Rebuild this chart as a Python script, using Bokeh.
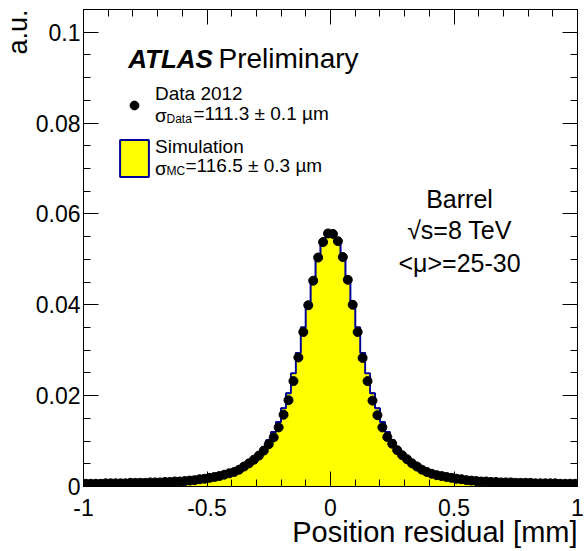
import numpy as np
from bokeh.plotting import figure
from bokeh.models import (Label, LinearAxis, Title, FixedTicker,
                          Legend, LegendItem)
from bokeh.embed import file_html
from bokeh.resources import INLINE

# ---------------- data ----------------
bin_width = 0.02
bin_centers = np.round(np.arange(-0.99, 1.0, 0.02), 2)   # 100 bins, -1 .. 1 mm

# Data 2012 (points), a.u. per bin
data_2012 = [
    0.0006, 0.0006, 0.0006, 0.0006, 0.0007, 0.0007, 0.0007, 0.0007, 0.0007, 0.0008,
    0.0008, 0.0008, 0.0008, 0.0009, 0.0009, 0.0009, 0.0010, 0.0010, 0.0011, 0.0011,
    0.0012, 0.0013, 0.0014, 0.0016, 0.0017, 0.0019, 0.0021, 0.0023, 0.0026, 0.0029,
    0.0032, 0.0037, 0.0044, 0.0051, 0.0059, 0.0068, 0.0079, 0.0093, 0.0108, 0.0130,
    0.0158, 0.0190, 0.0232, 0.0284, 0.0340, 0.0399, 0.0453, 0.0504, 0.0538, 0.0557,
    0.0556, 0.0540, 0.0505, 0.0455, 0.0400, 0.0340, 0.0283, 0.0232, 0.0189, 0.0157,
    0.0130, 0.0109, 0.0094, 0.0080, 0.0069, 0.0060, 0.0051, 0.0044, 0.0037, 0.0032,
    0.0028, 0.0025, 0.0023, 0.0021, 0.0019, 0.0017, 0.0016, 0.0014, 0.0013, 0.0012,
    0.0011, 0.0011, 0.0010, 0.0010, 0.0009, 0.0009, 0.0009, 0.0008, 0.0008, 0.0008,
    0.0008, 0.0007, 0.0007, 0.0007, 0.0007, 0.0007, 0.0006, 0.0006, 0.0006, 0.0006,
]

# Simulation (yellow histogram), a.u. per bin
simulation = [
    0.0002, 0.0002, 0.0002, 0.0002, 0.0002, 0.0002, 0.0002, 0.0002, 0.0002, 0.0002,
    0.0003, 0.0003, 0.0003, 0.0003, 0.0003, 0.0004, 0.0004, 0.0004, 0.0005, 0.0005,
    0.0006, 0.0007, 0.0008, 0.0009, 0.0011, 0.0013, 0.0016, 0.0019, 0.0022, 0.0026,
    0.0031, 0.0037, 0.0044, 0.0052, 0.0062, 0.0073, 0.0086, 0.0102, 0.0120, 0.0142,
    0.0172, 0.0205, 0.0249, 0.0294, 0.0350, 0.0405, 0.0458, 0.0503, 0.0535, 0.0549,
    0.0549, 0.0535, 0.0503, 0.0458, 0.0405, 0.0350, 0.0294, 0.0249, 0.0205, 0.0172,
    0.0142, 0.0120, 0.0102, 0.0086, 0.0073, 0.0062, 0.0052, 0.0044, 0.0037, 0.0031,
    0.0026, 0.0022, 0.0019, 0.0016, 0.0013, 0.0011, 0.0009, 0.0008, 0.0007, 0.0006,
    0.0005, 0.0005, 0.0004, 0.0004, 0.0004, 0.0003, 0.0003, 0.0003, 0.0003, 0.0003,
    0.0002, 0.0002, 0.0002, 0.0002, 0.0002, 0.0002, 0.0002, 0.0002, 0.0002, 0.0002,
]

x_major_ticks = [-1, -0.5, 0, 0.5, 1]
x_tick_labels = ["-1", "-0.5", "0", "0.5", "1"]
x_minor_ticks = [round(-1 + 0.1 * i, 1) for i in range(21)]
y_major_ticks = [0, 0.02, 0.04, 0.06, 0.08, 0.1]
y_tick_labels = ["0", "0.02", "0.04", "0.06", "0.08", "0.1"]
y_minor_ticks = [round(0.005 * i, 3) for i in range(22)]

# ---------------- derived geometry ----------------
lefts = bin_centers - bin_width / 2
rights = bin_centers + bin_width / 2
step_x = [lefts[0]]
step_y = [0.0]
for l, r, v in zip(lefts, rights, simulation):
    step_x += [l, r]
    step_y += [v, v]
step_x.append(rights[-1])
step_y.append(0.0)

FONT = "Liberation Sans"
HIST_LINE = "#000099"

p = figure(width=584, height=551, x_range=(-1, 1), y_range=(0, 0.105),
           output_backend="svg", toolbar_location=None,
           min_border_left=83, min_border_right=7, min_border_top=9, min_border_bottom=65)
p.background_fill_color = "white"
p.border_fill_color = "white"
p.outline_line_color = "black"
p.outline_line_width = 1
p.xgrid.visible = False
p.ygrid.visible = False

# histogram: bins (also used as legend key), filled area and step outline
hist = p.quad(left=lefts, right=rights, bottom=0, top=simulation,
              fill_color="#ffff00", line_color=HIST_LINE, line_width=2)
p.varea(x=step_x, y1=[0.0] * len(step_y), y2=step_y, fill_color="#ffff00")
p.line(step_x, step_y, line_color=HIST_LINE, line_width=1.8)

# data points
pts = p.scatter(bin_centers, data_2012, size=9, color="black", marker="circle")

# ---------------- axes ----------------
def style_axis(ax, major, minor, labels, show_labels=True):
    ax.ticker = FixedTicker(ticks=major, minor_ticks=minor)
    ax.major_tick_in = 15
    ax.major_tick_out = 0
    ax.minor_tick_in = 7
    ax.minor_tick_out = 0
    ax.axis_line_color = "black"
    ax.major_tick_line_color = "black"
    ax.minor_tick_line_color = "black"
    if show_labels:
        ax.major_label_overrides = {t: s for t, s in zip(major, labels)}
        ax.major_label_text_font = FONT
        ax.major_label_text_font_size = "23px"
        ax.major_label_text_color = "black"
    else:
        ax.major_label_text_font_size = "0px"
        ax.major_label_text_color = None
        ax.major_label_standoff = 0

style_axis(p.xaxis[0], x_major_ticks, x_minor_ticks, x_tick_labels)
p.xaxis[0].major_label_standoff = 12
style_axis(p.yaxis[0], y_major_ticks, y_minor_ticks, y_tick_labels)
p.yaxis[0].major_label_standoff = 3

top_ax = LinearAxis()
style_axis(top_ax, x_major_ticks, x_minor_ticks, x_tick_labels, show_labels=False)
p.add_layout(top_ax, "above")
right_ax = LinearAxis()
style_axis(right_ax, y_major_ticks, y_minor_ticks, y_tick_labels, show_labels=False)
p.add_layout(right_ax, "right")

p.add_layout(Title(text="Position residual [mm]", align="right", text_font=FONT,
                   text_font_size="29px", text_font_style="normal", text_color="black",
                   standoff=-9, offset=0),
             "below")
p.add_layout(Title(text="a.u.", align="right", text_font=FONT,
                   text_font_size="27px", text_font_style="normal", text_color="black",
                   standoff=0, offset=0),
             "left")

# ---------------- legend ----------------
common = dict(label_text_font=FONT, label_text_font_size="19px", label_text_color="black",
              label_text_line_height=0.98, padding=0, margin=0, spacing=0,
              border_line_color=None, background_fill_alpha=0)
leg_a = Legend(items=[LegendItem(label="Data 2012\nσ", renderers=[pts])],
               location=(40, 358), glyph_width=22, glyph_height=46,
               label_standoff=10, **common)
leg_b = Legend(items=[LegendItem(label="Simulation\nσ", renderers=[hist])],
               location=(33, 305), glyph_width=36, glyph_height=46,
               label_standoff=3, **common)
p.add_layout(leg_a)
p.add_layout(leg_b)

def lab(x, y, text, size, style="normal", align="left"):
    p.add_layout(Label(x=x, y=y, text=text, text_font=FONT, text_font_size=size,
                       text_font_style=style, text_align=align,
                       text_baseline="middle", text_color="black"))

# subscripts and values of the sigma lines
lab(-0.664, 0.08080, "Data", "12px")
lab(-0.5547, 0.08200, "=111.3 ± 0.1 µm", "19px")
lab(-0.664, 0.06950, "MC", "12px")
lab(-0.5870, 0.07070, "=116.5 ± 0.3 µm", "19px")

# ATLAS label
lab(-0.819, 0.0942, "ATLAS", "26px", style="bold italic")
lab(-0.4534, 0.0942, "Preliminary", "28px")

# conditions
lab(0.5223, 0.0632, "Barrel", "25px", align="center")
lab(0.5223, 0.0564, "√s=8 TeV", "25px", align="center")
lab(0.5223, 0.0493, "<μ>=25-30", "25px", align="center")

open("out.html", "w").write(file_html(p, INLINE))
